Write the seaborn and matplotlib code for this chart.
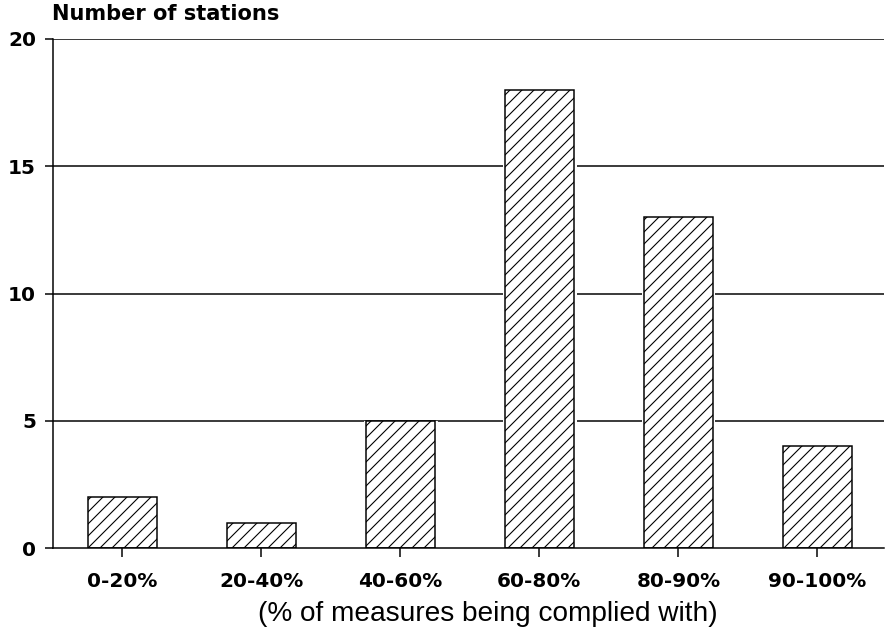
import matplotlib
matplotlib.use("Agg")
import matplotlib.pyplot as plt
import seaborn as sns
import pandas as pd

categories = ["0-20%", "20-40%", "40-60%", "60-80%", "80-90%", "90-100%"]
stations = [2, 1, 5, 18, 13, 4]
yticks = [0, 5, 10, 15, 20]

sns.set_theme(style="white")
plt.rcParams['font.family'] = ['Liberation Sans', 'DejaVu Sans']
plt.rcParams['hatch.linewidth'] = 1.1
plt.rcParams['hatch.color'] = 'black'
for k in ['text.color', 'axes.labelcolor', 'xtick.color', 'ytick.color']:
    plt.rcParams[k] = 'black'

df = pd.DataFrame({"cat": categories, "n": stations})

DPI = 72
fig = plt.figure(figsize=(887 / DPI, 632 / DPI), dpi=DPI)
ax = fig.add_axes([53 / 887, 1 - 548 / 632, 831 / 887, (548 - 39) / 632])

# white halo behind bars so gridlines stop short of the bars
ax.bar(range(len(stations)), stations, width=0.52, color="white", zorder=1.5)

sns.barplot(data=df, x="cat", y="n", ax=ax, color="white", width=0.5,
            edgecolor="black", linewidth=1.5, hatch="//", zorder=3)

ax.set_ylim(0, 20)
ax.set_xlim(-0.5, 5.48)

tick_font = dict(family="DejaVu Sans", size=20, weight="bold")
ax.set_yticks(yticks)
ax.set_yticklabels([str(v) for v in yticks], fontdict=tick_font)
ax.set_xticks(range(len(categories)))
ax.set_xticklabels(categories, fontdict=tick_font)

for v in yticks[1:]:
    ax.axhline(v, color="black", linewidth=1.5, zorder=1)

for s in ["top", "right"]:
    ax.spines[s].set_visible(False)
for s in ["left", "bottom"]:
    ax.spines[s].set_color("black")
    ax.spines[s].set_linewidth(1.5)
    ax.spines[s].set_zorder(4)

ax.tick_params(axis="y", which="both", left=True, length=8, width=1.5, color="black", pad=9)
ax.tick_params(axis="x", which="both", bottom=True, length=9, width=1.5, color="black", pad=15)

ax.set_xlabel("(% of measures being complied with)", fontsize=28, labelpad=11,
              family="Liberation Sans")
ax.xaxis.set_label_coords(0.523, -0.105)
ax.xaxis.label.set_va("top")
ax.set_ylabel("")
fig.text(52 / 887, 1 - 20 / 632, "Number of stations", family="DejaVu Sans",
         fontsize=21, fontweight="bold", ha="left", va="baseline")

fig.savefig("out.png", dpi=DPI, facecolor="white")
